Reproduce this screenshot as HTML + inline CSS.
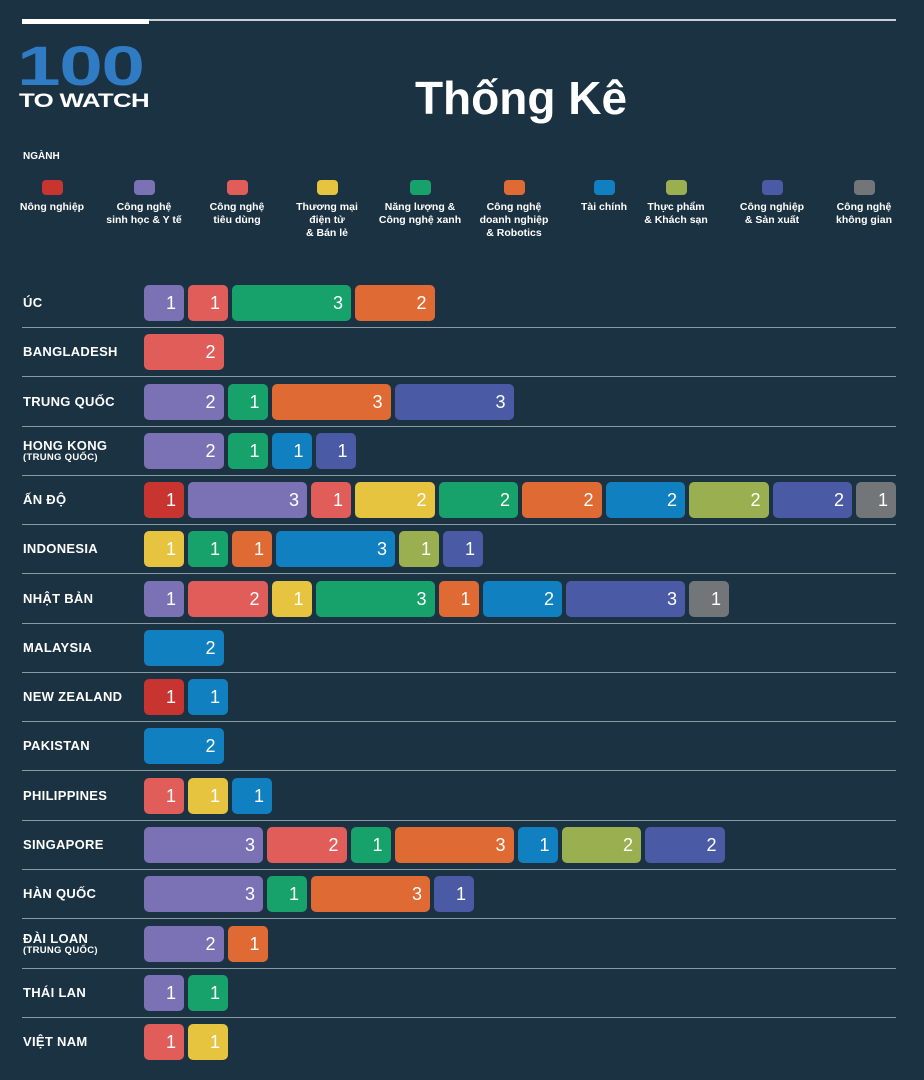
<!DOCTYPE html>
<html><head><meta charset="utf-8"><style>
*{margin:0;padding:0;box-sizing:border-box}
body{width:924px;height:1080px;background:#1b3242;font-family:"Liberation Sans","DejaVu Sans",sans-serif;color:#fff;position:relative;overflow:hidden}
.abs{position:absolute}
.lg{position:absolute;top:180px;width:110px;margin-left:-55px;text-align:center;font-size:10.5px;font-weight:bold;line-height:13px}
.lg i{display:block;width:21px;height:15px;border-radius:4px;margin:0 auto 6px}
.row{position:absolute;left:0;width:924px;height:49px}
.row .lab{position:absolute;left:23px;font-size:13px;font-weight:bold;letter-spacing:.3px}
.row .sub{font-size:9.5px;display:block;line-height:10px}
.line{position:absolute;left:144px;width:752px;height:1px;background:#8b99a3}
.bars{position:absolute;left:144px;top:7px;display:flex;gap:4px}
.b{height:36px;border-radius:5px;text-align:right;padding-right:8px;font-size:18px;line-height:36px}
</style></head><body>
<div class="abs" style="left:22px;top:19px;width:874px;height:2px;background:#c9d0d5"></div>
<div class="abs" style="left:22px;top:19px;width:127px;height:5px;background:#fff"></div>
<div class="abs" style="left:17px;top:37px;font-size:56px;font-weight:900;color:#2f7cc4;letter-spacing:-1px;line-height:58px;transform:scaleX(1.4);transform-origin:left">100</div>
<div class="abs" style="left:19px;top:91px;font-size:19px;font-weight:900;letter-spacing:-0.5px;transform:scaleX(1.36);transform-origin:left">TO WATCH</div>
<div class="abs" style="left:380px;top:71px;width:282px;text-align:center;font-size:46px;font-weight:bold">Thống Kê</div>
<div class="abs" style="left:23px;top:151px;font-size:10px;font-weight:bold">NGÀNH</div>
<div class="lg" style="left:52px"><i style="background:#c8342f"></i>Nông nghiệp</div>
<div class="lg" style="left:144px"><i style="background:#7b72b5"></i>Công nghệ<br>sinh học &amp; Y tế</div>
<div class="lg" style="left:237px"><i style="background:#e05d5a"></i>Công nghệ<br>tiêu dùng</div>
<div class="lg" style="left:327px"><i style="background:#e6c43f"></i>Thương mại<br>điện tử<br>&amp; Bán lẻ</div>
<div class="lg" style="left:420px"><i style="background:#17a26b"></i>Năng lượng &amp;<br>Công nghệ xanh</div>
<div class="lg" style="left:514px"><i style="background:#e06a33"></i>Công nghệ<br>doanh nghiệp<br>&amp; Robotics</div>
<div class="lg" style="left:604px"><i style="background:#1080c0"></i>Tài chính</div>
<div class="lg" style="left:676px"><i style="background:#9ab050"></i>Thực phẩm<br>&amp; Khách sạn</div>
<div class="lg" style="left:772px"><i style="background:#4a5aa5"></i>Công nghiệp<br>&amp; Sản xuất</div>
<div class="lg" style="left:864px"><i style="background:#737679"></i>Công nghệ<br>không gian</div>
<div id="rows"></div>
<script>
var C={r:"#c8342f",p:"#7b72b5",s:"#e05d5a",y:"#e6c43f",g:"#17a26b",o:"#e06a33",b:"#1080c0",v:"#9ab050",i:"#4a5aa5",x:"#737679"};
var D=[["ÚC","p1 s1 g3 o2"],["BANGLADESH","s2"],["TRUNG QUỐC","p2 g1 o3 i3"],["HONG KONG|(TRUNG QUỐC)","p2 g1 b1 i1"],["ẤN ĐỘ","r1 p3 s1 y2 g2 o2 b2 v2 i2 x1"],["INDONESIA","y1 g1 o1 b3 v1 i1"],["NHẬT BẢN","p1 s2 y1 g3 o1 b2 i3 x1"],["MALAYSIA","b2"],["NEW ZEALAND","r1 b1"],["PAKISTAN","b2"],["PHILIPPINES","s1 y1 b1"],["SINGAPORE","p3 s2 g1 o3 b1 v2 i2"],["HÀN QUỐC","p3 g1 o3 i1"],["ĐÀI LOAN|(TRUNG QUỐC)","p2 o1"],["THÁI LAN","p1 g1"],["VIỆT NAM","s1 y1"]];
var h="";
D.forEach(function(d,k){var top=278+k*49.27;var n=d[0].split("|");
var lab=n.length>1?'<div class="lab" style="top:12px">'+n[0]+'<span class="sub">'+n[1]+'</span></div>':'<div class="lab" style="top:17px">'+n[0]+'</div>';
var bs=d[1].split(" ").map(function(t){var c=t[0],v=+t[1];return '<div class="b" style="background:'+C[c]+';width:'+(39.5*v+0.5)+'px">'+v+'</div>'}).join("");
h+='<div class="row" style="top:'+top+'px">'+lab+'<div class="bars">'+bs+'</div>'+(k<15?'<div class="line" style="top:49px;left:22px;width:874px"></div>':'')+'</div>';});
document.getElementById("rows").innerHTML=h;
</script>
</body></html>
